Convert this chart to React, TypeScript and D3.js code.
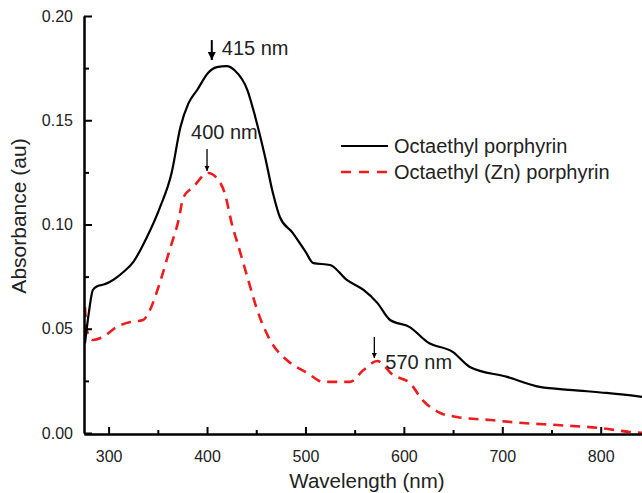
import React, { useRef, useEffect } from "react";
import * as d3 from "d3";

// Data (wavelength nm, absorbance au)
const freeBaseNm = [276, 280, 284, 289, 295, 301, 308, 315, 325, 339, 352, 364, 373, 381, 390, 401, 410, 420, 428, 441, 449, 459, 467, 474, 487, 500, 508, 525, 542, 559, 573, 586, 606, 624, 650, 667, 705, 738, 772, 806, 845];
const freeBaseAbs = [0.043, 0.058, 0.0686, 0.0705, 0.0712, 0.0724, 0.0745, 0.0772, 0.082, 0.094, 0.108, 0.1247, 0.1468, 0.158, 0.1645, 0.1727, 0.1755, 0.176, 0.174, 0.1645, 0.1516, 0.1324, 0.115, 0.1036, 0.096, 0.087, 0.0815, 0.0806, 0.0734, 0.0686, 0.0624, 0.0542, 0.0508, 0.0436, 0.0388, 0.0317, 0.0269, 0.0221, 0.0206, 0.0192, 0.0172];

const zincNm = [276, 278, 284, 294, 308, 322, 335, 342, 352, 362, 371, 376, 386, 401, 410, 418, 426, 430, 441, 451, 464, 481, 502, 518, 545, 559, 573, 589, 606, 619, 637, 654, 688, 721, 756, 799, 830, 845];
const zincAbs = [0.0604, 0.049, 0.0446, 0.046, 0.0508, 0.0532, 0.0542, 0.059, 0.072, 0.0878, 0.102, 0.113, 0.118, 0.1247, 0.1223, 0.115, 0.0988, 0.0926, 0.0748, 0.059, 0.0446, 0.035, 0.0288, 0.0245, 0.0245, 0.0302, 0.0345, 0.0278, 0.024, 0.0158, 0.0096, 0.0077, 0.0062, 0.0048, 0.0038, 0.0024, 0.0005, 0.0];

const xMajor = [300, 400, 500, 600, 700, 800];
const xMinor = [350, 450, 550, 650, 750, 850];
const yMajor = [0, 0.05, 0.1, 0.15, 0.2];
const yMinor = [0.025, 0.075, 0.125, 0.175];

const legendLabels = ["Octaethyl porphyrin", "Octaethyl (Zn) porphyrin"];
const peaks = [
  { nm: 415, abs: 0.176, label: "415 nm" },
  { nm: 400, abs: 0.1247, label: "400 nm" },
  { nm: 570, abs: 0.0345, label: "570 nm" },
];

const FONT = "'Liberation Sans', Arial, Helvetica, sans-serif";

const Chart = () => {
  const svgRef = useRef(null);

  useEffect(() => {
    const width = 642;
    const height = 493;

    const svg = d3.select(svgRef.current).attr("width", width).attr("height", height);
    svg.selectAll("*").remove();

    // Scales
    const xScale = d3.scaleLinear().domain([275, 845]).range([84, 645]);
    const yScale = d3.scaleLinear().domain([0, 0.2]).range([433, 16]);

    const line = d3
      .line()
      .x((d) => xScale(d[0]))
      .y((d) => yScale(d[1]))
      .curve(d3.curveMonotoneX);

    const black = freeBaseNm.map((n, i) => [n, freeBaseAbs[i]]);
    const red = zincNm.map((n, i) => [n, zincAbs[i]]);

    // Curves
    svg
      .append("path")
      .datum(red)
      .attr("d", line)
      .attr("fill", "none")
      .attr("stroke", "#ee1c1c")
      .attr("stroke-width", 2.6)
      .attr("stroke-dasharray", "10,7");

    svg
      .append("path")
      .datum(black)
      .attr("d", line)
      .attr("fill", "none")
      .attr("stroke", "#000")
      .attr("stroke-width", 2.2);

    // Axes
    const styleAxis = (g) => {
      g.select(".domain").attr("stroke", "#000").attr("stroke-width", 2);
      g.selectAll(".tick line").attr("stroke", "#000").attr("stroke-width", 2);
      g.selectAll(".tick text").attr("fill", "#222").style("font-family", FONT).style("font-size", "16px");
    };

    svg
      .append("g")
      .attr("transform", `translate(84,0)`)
      .call(d3.axisLeft(yScale).tickValues(yMajor).tickFormat(d3.format(".2f")).tickSizeInner(-8).tickSizeOuter(0).tickPadding(11))
      .call(styleAxis);
    svg
      .append("g")
      .attr("transform", `translate(84,0)`)
      .call(d3.axisLeft(yScale).tickValues(yMinor).tickFormat(() => "").tickSizeInner(-5).tickSizeOuter(0))
      .call(styleAxis);

    svg
      .append("g")
      .attr("transform", `translate(0,434)`)
      .call(d3.axisBottom(xScale).tickValues(xMajor).tickSizeInner(-7).tickSizeOuter(0).tickPadding(17))
      .call(styleAxis);
    svg
      .append("g")
      .attr("transform", `translate(0,434)`)
      .call(d3.axisBottom(xScale).tickValues(xMinor).tickFormat(() => "").tickSizeInner(-4).tickSizeOuter(0))
      .call(styleAxis);

    // Axis titles
    svg
      .append("text")
      .attr("x", 367)
      .attr("y", 488)
      .attr("text-anchor", "middle")
      .style("font-family", FONT)
      .style("font-size", "20.5px")
      .attr("fill", "#222")
      .text("Wavelength (nm)");

    svg
      .append("text")
      .attr("transform", "translate(26,216) rotate(-90)")
      .attr("text-anchor", "middle")
      .style("font-family", FONT)
      .style("font-size", "21px")
      .attr("fill", "#222")
      .text("Absorbance (au)");

    // Legend
    const legend = svg.append("g");
    const legendY = [146, 172];
    legend
      .append("line")
      .attr("x1", 341).attr("x2", 388).attr("y1", legendY[0]).attr("y2", legendY[0])
      .attr("stroke", "#000").attr("stroke-width", 2.2);
    legend
      .append("line")
      .attr("x1", 341).attr("x2", 388).attr("y1", legendY[1]).attr("y2", legendY[1])
      .attr("stroke", "#ee1c1c").attr("stroke-width", 2.6).attr("stroke-dasharray", "10,8");
    legendLabels.forEach((t, i) => {
      legend
        .append("text")
        .attr("x", 394)
        .attr("y", legendY[i] + 7)
        .style("font-family", FONT)
        .style("font-size", "20px")
        .attr("fill", "#222")
        .text(t);
    });

    // Peak annotations
    const defs = svg.append("defs");
    defs
      .append("marker")
      .attr("id", "head")
      .attr("viewBox", "0 0 10 10")
      .attr("refX", 10)
      .attr("refY", 5)
      .attr("markerWidth", 4)
      .attr("markerHeight", 4)
      .attr("orient", "auto")
      .append("path")
      .attr("d", "M0,0 L10,5 L0,10 z")
      .attr("fill", "#000");

    const labelOffsets = [
      { ax: -10, ay0: -26, ay1: -6, tx: 0, ty: -11, w: 2 },
      { ax: 0, ay0: -24, ay1: -2, tx: -16, ty: -34, w: 1.3 },
      { ax: 0, ay0: -24, ay1: -3, tx: 11, ty: 8, w: 1.3 },
    ];
    peaks.forEach((p, i) => {
      const o = labelOffsets[i];
      const px = xScale(p.nm) + o.ax;
      const py = yScale(p.abs);
      svg
        .append("line")
        .attr("x1", px).attr("x2", px)
        .attr("y1", py + o.ay0).attr("y2", py + o.ay1)
        .attr("stroke", "#000")
        .attr("stroke-width", o.w)
        .attr("marker-end", "url(#head)");
      svg
        .append("text")
        .attr("x", xScale(p.nm) + o.tx)
        .attr("y", py + o.ty)
        .style("font-family", FONT)
        .style("font-size", "20px")
        .attr("fill", "#222")
        .text(p.label);
    });
  }, []);

  return <svg ref={svgRef} style={{ position: "absolute", left: 0, top: 0, background: "#fff" }} />;
};

const App = () => {
  return (
    <>
      <Chart />
    </>
  );
};

export default App;
